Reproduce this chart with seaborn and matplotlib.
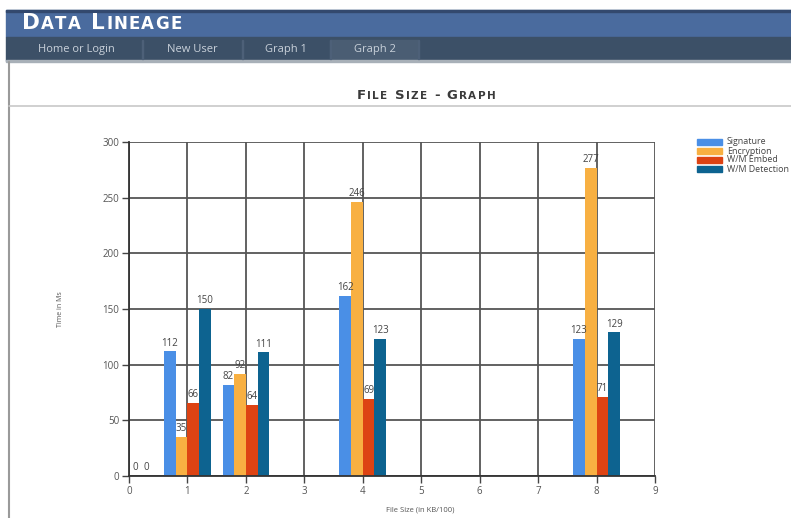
import matplotlib
matplotlib.use("Agg")
import matplotlib.pyplot as plt
from matplotlib.patches import Rectangle
from matplotlib.lines import Line2D
import seaborn as sns
import pandas as pd

# ---- data ----
file_sizes = [0, 1, 2, 4, 8]
signature = [0, 112, 82, 162, 123]
encryption = [0, 35, 92, 246, 277]
wm_embed = [0, 66, 64, 69, 71]
wm_detection = [0, 150, 111, 123, 129]
series_names = ["Signature", "Encryption", "W/M Embed", "W/M Detection"]
series_colors = ["#4a8fe6", "#f8b042", "#dd4313", "#0d6390"]
menu_items = ["Home or Login", "New User", "Graph 1", "Graph 2"]

df = pd.DataFrame({
    "size": file_sizes * 4,
    "time": signature + encryption + wm_embed + wm_detection,
    "op": sum([[n] * len(file_sizes) for n in series_names], []),
})

W, H = 791, 518
sns.set_theme(style="white")
plt.rcParams["font.family"] = ["Open Sans", "DejaVu Sans"]

fig = plt.figure(figsize=(W / 100, H / 100), dpi=100)
fig.patch.set_facecolor("white")
renderer = fig.canvas.get_renderer()


def fx(px):
    return px / W


def fy(py):
    return 1 - py / H


def rect(x0, y0, x1, y1, color, z=0):
    fig.patches.append(Rectangle((fx(x0), fy(y1)), fx(x1) - fx(x0), fy(y0) - fy(y1),
                                 transform=fig.transFigure, color=color, zorder=z))


def small_caps(x_px, y_px, text, big, small, ha="left", spacing=0.0, **kw):
    """Draw text in small caps: capitals at `big` size, other letters upper-cased at `small`."""
    pieces = []
    for ch in text:
        size = big if (ch.isupper() or not ch.isalpha()) else small
        t = fig.text(0, fy(y_px), ch.upper(), fontsize=size, va="baseline", ha="left", **kw)
        pieces.append(t)
    widths = [p.get_window_extent(renderer).width for p in pieces]
    total = sum(widths) + spacing * (len(pieces) - 1)
    x = x_px - (total / 2 if ha == "center" else 0)
    for p, w in zip(pieces, widths):
        p.set_x(fx(x))
        x += w + spacing


# ---- page header ----
rect(6, 10, W, 37, "#4a6b9e")
rect(6, 10, W, 12, "#33496e", 1)
rect(6, 37, W, 61, "#3c5067")
rect(330, 40, 418, 59, "#4a5d73", 1)
rect(6, 60, W, 62, "#a8b0b8", 1)
for sx in [142, 242, 330, 418]:
    rect(sx, 40, sx + 1, 59, "#4d6078", 2)
small_caps(22, 29, "Data Lineage", 15.5, 12, color="white", fontweight="bold",
           family="DejaVu Sans", spacing=1.3)
for label, cx in zip(menu_items, [76, 192, 286, 375]):
    fig.text(fx(cx), fy(49.5), label, color="#c9d1da", fontsize=8,
             va="center", ha="center")

# page frame and title rule
fig.lines.append(Line2D([fx(9), fx(9)], [fy(62), fy(H)], transform=fig.transFigure,
                        color="#9a9a9a", lw=1.5))
fig.lines.append(Line2D([fx(9), fx(W)], [fy(106), fy(106)], transform=fig.transFigure,
                        color="#c8c8c8", lw=1.2))
small_caps(426, 99, "File Size - Graph", 9.5, 7.5, ha="center", color="#3a3a3a",
           fontweight="bold", family="DejaVu Sans", spacing=1.3)

# ---- chart ----
ax = fig.add_axes([fx(129), fy(476), fx(655) - fx(129), fy(142) - fy(476)])
sns.barplot(data=df, x="size", y="time", hue="op", hue_order=series_names,
            palette=series_colors, native_scale=True, width=0.8, ax=ax,
            legend=False, saturation=1, edgecolor="none", linewidth=0)

ax.set_xlim(0, 9)
ax.set_ylim(0, 300)
ax.set_xticks(range(0, 10))
ax.set_yticks(range(0, 301, 50))
ax.grid(True, color="#555555", lw=1.3, zorder=0)
ax.set_axisbelow(True)
for s in ["top", "right"]:
    ax.spines[s].set_visible(False)
for s in ["left", "bottom"]:
    ax.spines[s].set_color("#333333")
    ax.spines[s].set_linewidth(1.3)
ax.tick_params(axis="both", length=5, width=1, color="#444444", labelsize=7,
               labelcolor="#555555", direction="out", bottom=True, left=True, pad=2)

for cont in ax.containers:
    for t in ax.bar_label(cont, padding=2, fontsize=7, color="#444444"):
        t.set_clip_on(True)

ax.set_xlabel("")
ax.set_ylabel("Time in Ms", fontsize=5, color="#555555", labelpad=28)
fig.text(fx(420), fy(510), "File Size (in KB/100)", fontsize=5.5, color="#555555",
         ha="center", va="center")

# legend
lx, ly = 697, 142
for i, (name, col) in enumerate(zip(series_names, series_colors)):
    y = ly + i * 9
    rect(lx, y - 3, lx + 25, y + 3, col, 3)
    fig.text(fx(lx + 30), fy(y), name, fontsize=6.4, color="#444444",
             va="center", ha="left")

fig.savefig("out.png", dpi=100)
